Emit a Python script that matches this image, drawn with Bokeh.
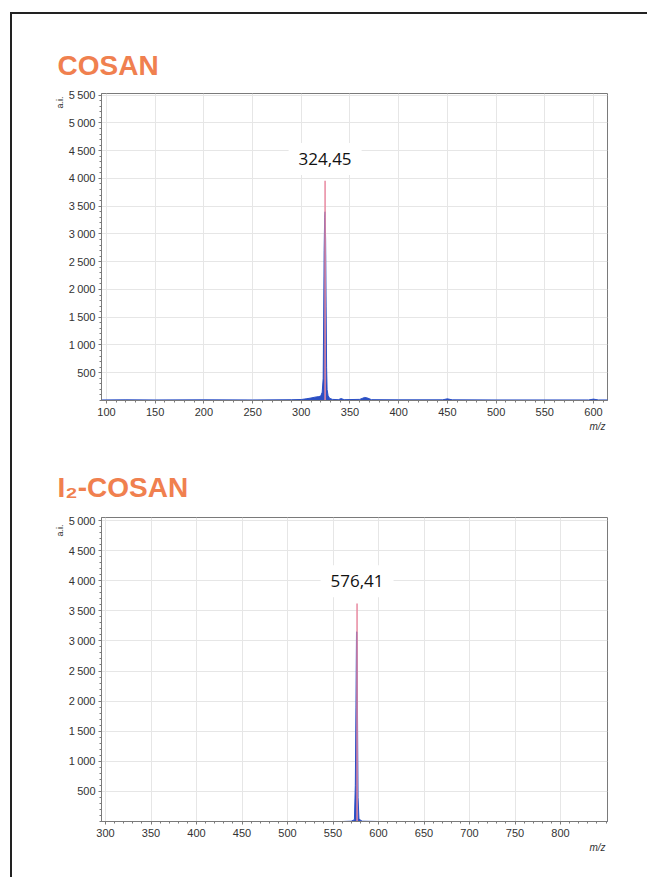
from bokeh.plotting import figure
from bokeh.models import Range1d, FixedTicker, Label, Title, Spacer
from bokeh.layouts import column, row
from bokeh.embed import file_html
from bokeh.resources import INLINE

# ---------------- data ----------------
# COSAN spectrum (m/z, intensity a.i.)
cosan_mz = [94, 120, 150, 200, 250, 290, 300, 305, 310, 314, 318, 320, 321.5, 322.5, 323.0, 323.5,
            324.0, 324.45, 325.0, 325.5, 326.0, 326.5, 327.5, 329, 332, 338, 341, 344, 360, 365,
            368, 372, 400, 445, 450, 455, 500, 595, 600, 605, 616]
cosan_int = [10, 12, 10, 12, 10, 14, 18, 30, 45, 60, 70, 80, 150, 400, 1500, 2700,
             3300, 3400, 2900, 1700, 600, 200, 90, 40, 20, 15, 35, 15, 20, 55,
             45, 15, 12, 12, 30, 12, 10, 10, 25, 10, 10]
cosan_peak_mz = 324.45
cosan_peak_int = 3960
cosan_peak_label = "324,45"
cosan_xticks = [100, 150, 200, 250, 300, 350, 400, 450, 500, 550, 600]
cosan_yticks = [500, 1000, 1500, 2000, 2500, 3000, 3500, 4000, 4500, 5000, 5500]
cosan_ylabels = ["500", "1\u2009000", "1\u2009500", "2\u2009000", "2\u2009500", "3\u2009000",
                 "3\u2009500", "4\u2009000", "4\u2009500", "5\u2009000", "5\u2009500"]

# I2-COSAN spectrum
i2_mz = [295, 400, 500, 560, 570, 573.5, 574.5, 575.2, 575.8, 576.41, 577.0, 577.5, 578.5, 582, 600, 700, 852]
i2_int = [0, 0, 0, 0, 5, 30, 600, 1900, 3150, 3150, 1500, 400, 40, 5, 0, 0, 0]
i2_peak_mz = 576.41
i2_peak_int = 3620
i2_peak_label = "576,41"
i2_xticks = [300, 350, 400, 450, 500, 550, 600, 650, 700, 750, 800]
i2_yticks = [500, 1000, 1500, 2000, 2500, 3000, 3500, 4000, 4500, 5000]
i2_ylabels = ["500", "1\u2009000", "1\u2009500", "2\u2009000", "2\u2009500", "3\u2009000",
              "3\u2009500", "4\u2009000", "4\u2009500", "5\u2009000"]

TITLE_COLOR = "#F0804F"
BLUE = "#2B4FC4"
PINK = "#E889A0"
AXIS_COLOR = "#7a7a7a"
GRID_COLOR = "#e6e6e6"
LABEL_COLOR = "#333333"
W = 627
BL = 89
BR = 32


def make_plot(title, title_offset, title_standoff, ai_offset,
              mz, inten, peak_mz, peak_int, peak_label, label_y, xr, yr, xticks, xminor,
              yticks, ylabels, yminor, height, bt, bb):
    p = figure(width=W, height=height, x_range=Range1d(*xr), y_range=Range1d(*yr),
               output_backend="svg", toolbar_location=None,
               min_border_left=BL, min_border_right=BR, min_border_top=bt, min_border_bottom=bb)
    p.title = Title(text=title, align="left", offset=title_offset, standoff=title_standoff,
                    text_font="Liberation Sans", text_font_style="bold",
                    text_font_size="28px", text_color=TITLE_COLOR)
    p.outline_line_color = AXIS_COLOR
    p.outline_line_width = 1
    p.background_fill_color = "white"
    p.border_fill_color = "white"

    p.xaxis.ticker = FixedTicker(ticks=xticks, minor_ticks=xminor)
    p.yaxis.ticker = FixedTicker(ticks=yticks, minor_ticks=yminor)
    p.yaxis.major_label_overrides = {t: l for t, l in zip(yticks, ylabels)}
    for ax in (p.xaxis, p.yaxis):
        ax.axis_line_color = AXIS_COLOR
        ax.major_tick_line_color = AXIS_COLOR
        ax.minor_tick_line_color = AXIS_COLOR
        ax.major_tick_in = 0
        ax.major_tick_out = 3
        ax.minor_tick_in = 0
        ax.minor_tick_out = 2
        ax.major_label_text_font = "Liberation Sans"
        ax.major_label_text_font_size = "11px"
        ax.major_label_text_color = LABEL_COLOR
    p.xaxis.major_label_standoff = 4
    p.yaxis.major_label_standoff = 3
    p.xgrid.ticker = FixedTicker(ticks=xticks)
    p.ygrid.ticker = FixedTicker(ticks=yticks)
    p.xgrid.grid_line_color = GRID_COLOR
    p.ygrid.grid_line_color = GRID_COLOR

    p.varea(x=mz, y1=[0] * len(mz), y2=inten, fill_color=BLUE)
    p.line(x=mz, y=inten, line_color=BLUE, line_width=1)
    p.segment(x0=[peak_mz], y0=[0], x1=[peak_mz], y1=[peak_int], line_color=PINK, line_width=1.5)

    p.add_layout(Label(x=peak_mz, y=label_y, text=peak_label, text_align="center",
                       text_baseline="middle", text_font="Open Sans",
                       text_font_size="17px", text_color="#111111",
                       background_fill_color="white", background_fill_alpha=1.0,
                       padding=10))

    p.add_layout(Title(text="a.i.", align="right", text_font="Liberation Sans",
                       text_font_size="9px", text_font_style="normal",
                       text_color=LABEL_COLOR, standoff=2, offset=ai_offset), "left")
    p.add_layout(Title(text="m/z", align="right", text_font="Liberation Sans",
                       text_font_size="10px", text_font_style="italic",
                       text_color=LABEL_COLOR, standoff=0, offset=2), "below")
    return p


p1 = make_plot("COSAN", -44, 26, 3,
               cosan_mz, cosan_int, cosan_peak_mz, cosan_peak_int, cosan_peak_label, 4350,
               (94.9, 614.4), (0, 5530), cosan_xticks, list(range(100, 620, 10)),
               cosan_yticks, cosan_ylabels, list(range(0, 5600, 100)),
               430, 79, 44)
p2 = make_plot("I\u2082-COSAN", -44, 30, 7,
               i2_mz, i2_int, i2_peak_mz, i2_peak_int, i2_peak_label, 3990,
               (295.6, 851.6), (0, 5050), i2_xticks, list(range(300, 860, 10)),
               i2_yticks, i2_ylabels, list(range(0, 5100, 100)),
               415, 73, 38)

content = column(p1, p2)
top_line = Spacer(width=637, height=2, styles={"background-color": "#222"})
left_line = Spacer(width=2, height=863, styles={"background-color": "#222"})
layout = column(Spacer(width=10, height=12),
                row(Spacer(width=10, height=2), top_line),
                row(Spacer(width=10, height=863), left_line, content))

open("out.html", "w").write(file_html(layout, INLINE))
